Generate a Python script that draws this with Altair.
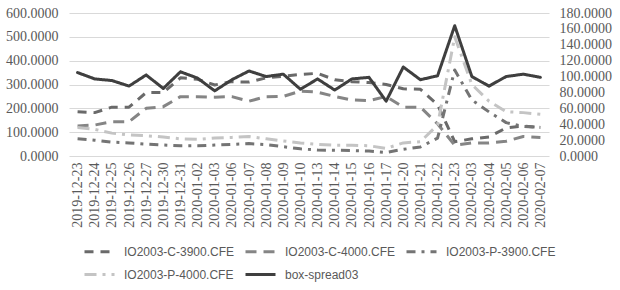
import altair as alt
import pandas as pd

dates = ["2019-12-23", "2019-12-24", "2019-12-25", "2019-12-26", "2019-12-27",
         "2019-12-30", "2019-12-31", "2020-01-02", "2020-01-03", "2020-01-06",
         "2020-01-07", "2020-01-08", "2020-01-09", "2020-01-10", "2020-01-13",
         "2020-01-14", "2020-01-15", "2020-01-16", "2020-01-17", "2020-01-20",
         "2020-01-21", "2020-01-22", "2020-01-23", "2020-02-03", "2020-02-04",
         "2020-02-05", "2020-02-06", "2020-02-07"]

c3900 = [186, 182, 205, 205, 266, 266, 328, 322, 298, 312, 310, 328, 335, 342,
         347, 320, 312, 308, 300, 282, 280, 215, 60, 72, 80, 118, 126, 120]
c4000 = [126, 130, 144, 144, 200, 207, 249, 249, 247, 249, 230, 249, 250, 272,
         268, 250, 235, 232, 250, 205, 205, 135, 45, 55, 55, 62, 82, 78]
p3900 = [72, 66, 58, 55, 50, 46, 43, 43, 46, 49, 52, 48, 39, 30,
         25, 24, 23, 21, 15, 28, 38, 75, 361, 235, 185, 140, 124, 120]
p4000 = [120, 112, 96, 88, 85, 80, 72, 70, 76, 78, 82, 72, 63, 55,
         49, 45, 45, 43, 32, 55, 60, 130, 500, 300, 230, 186, 182, 175]
box_spread = [105, 97, 95, 88, 102, 85, 106, 98, 82, 96, 107, 100, 103, 84,
              97, 83, 97, 99, 69, 112, 96, 101, 164, 100, 88, 100, 103, 99]

series_names = ["IO2003-C-3900.CFE", "IO2003-C-4000.CFE", "IO2003-P-3900.CFE",
                "IO2003-P-4000.CFE", "box-spread03"]
left_ticks = [0, 100, 200, 300, 400, 500, 600]
right_ticks = [0, 20, 40, 60, 80, 100, 120, 140, 160, 180]

colors = ["#6a6a6a", "#858585", "#747474", "#c4c4c4", "#3f3f3f"]
dashes = [[9, 7], [11, 7], [9, 6, 3, 6], [12, 6, 3, 6], [1, 0]]
widths = [3, 3, 3, 3, 4.5]

rows = []
for name, vals in zip(series_names[:4], [c3900, c4000, p3900, p4000]):
    for d, v in zip(dates, vals):
        rows.append({"date": d, "series": name, "value": v})
opt_df = pd.DataFrame(rows)
box_df = pd.DataFrame({"date": dates, "series": series_names[4], "value": box_spread})

legend = alt.Legend(
    title=None, orient="none", legendX=14, legendY=222, direction="horizontal",
    columns=3, symbolType="stroke", symbolSize=900, symbolStrokeWidth=3,
    labelFont="Liberation Sans", labelFontSize=12, labelColor="#595959",
    labelLimit=0, labelOffset=8, columnPadding=4, rowPadding=-5,
)

x = alt.X("date:O", sort=dates, scale=alt.Scale(type="point", padding=0.5),
          axis=alt.Axis(title=None, labelAngle=-90, labelPadding=6, grid=False,
                        domain=False, ticks=False))
color = alt.Color("series:N", scale=alt.Scale(domain=series_names, range=colors), legend=legend)
dash = alt.StrokeDash("series:N", scale=alt.Scale(domain=series_names, range=dashes), legend=legend)
sw = alt.StrokeWidth("series:N", scale=alt.Scale(domain=series_names, range=widths), legend=legend)

left = alt.Chart(opt_df).mark_line(strokeCap="butt", strokeJoin="round").encode(
    x=x,
    y=alt.Y("value:Q", scale=alt.Scale(domain=[0, 600], nice=False),
            axis=alt.Axis(title=None, values=left_ticks, format=".4f", orient="left",
                          grid=True, gridColor="#d9d9d9", gridWidth=1,
                          labelPadding=11, labelOverlap=False, domain=False, ticks=False)),
    color=color, strokeDash=dash, strokeWidth=sw,
)

right = alt.Chart(box_df).mark_line(strokeCap="round", strokeJoin="round").encode(
    x=x,
    y=alt.Y("value:Q", scale=alt.Scale(domain=[0, 180], nice=False),
            axis=alt.Axis(title=None, values=right_ticks, format=".4f", orient="right",
                          grid=False, labelPadding=10, labelOverlap=False,
                          labelFlush=False, domain=False, ticks=False)),
    color=color, strokeDash=dash, strokeWidth=sw,
)

chart = alt.layer(left, right).resolve_scale(y="independent").properties(
    width=480, height=143,
    padding={"left": 69, "top": 13, "right": 71, "bottom": 134},
    autosize=alt.AutoSizeParams(type="none"),
    background="white",
).configure_view(stroke=None).configure_axis(
    labelFont="Liberation Serif", labelFontSize=14, labelColor="#595959",
)

chart.save("out.html", embed_options={"renderer": "svg", "actions": False})
